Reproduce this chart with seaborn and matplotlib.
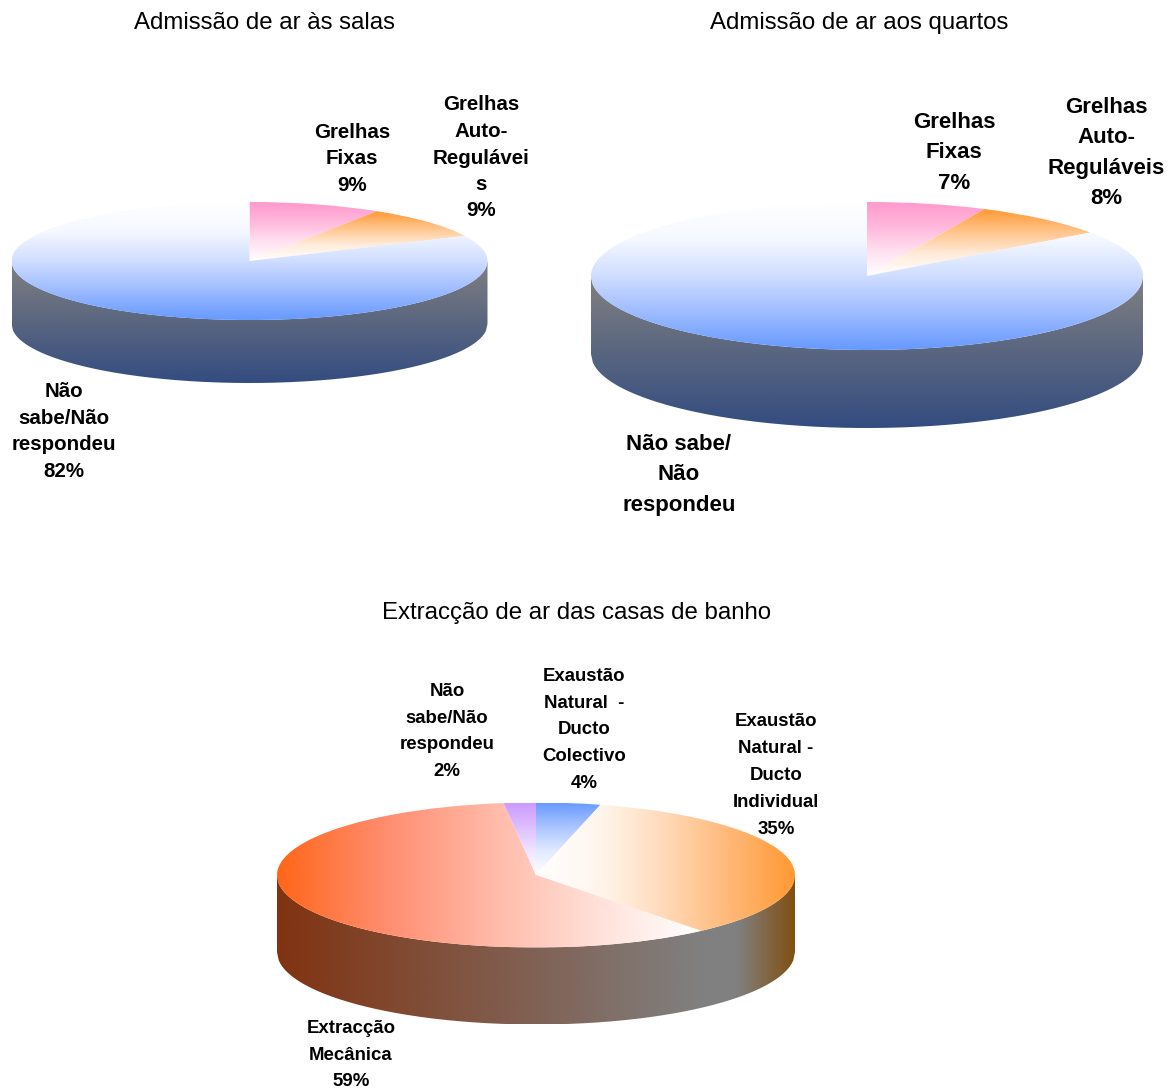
import matplotlib.pyplot as plt
import numpy as np
import seaborn as sns
from matplotlib.colors import LinearSegmentedColormap
from matplotlib.patches import PathPatch, Rectangle
from matplotlib.path import Path

# chart data
titles = ["Admissão de ar às salas", "Admissão de ar aos quartos", "Extracção de ar das casas de banho"]

salas_values = [9, 9, 82]
salas_names = ["Grelhas\nFixas", "Grelhas\nAuto-\nRegulávei\ns", "Não\nsabe/Não\nrespondeu"]

quartos_values = [7, 8, 85]
quartos_names = ["Grelhas\nFixas", "Grelhas\nAuto-\nReguláveis", "Não sabe/\nNão\nrespondeu"]

banho_values = [4, 35, 59, 2]
banho_names = ["Exaustão\nNatural  -\nDucto\nColectivo", "Exaustão\nNatural -\nDucto\nIndividual",
               "Extracção\nMecânica", "Não\nsabe/Não\nrespondeu"]

PINK = "#FF99CC"
ORANGE = "#FF9933"
BLUE = "#6699FF"
RED = "#FF6619"
PURPLE = "#CC99FF"
WIDTH, HEIGHT = 1175, 1088

sns.set_theme(style="white")
plt.rcParams['font.family'] = ['Liberation Sans', 'DejaVu Sans']


def add_gradient(ax, extent, cmap, clip, vertical=True):
    """Paint a linear gradient into extent and clip it to a patch."""
    ramp = np.linspace(0, 1, 256)
    ramp = ramp[:, None] if vertical else ramp[None, :]
    im = ax.imshow(ramp, extent=extent, origin='lower', aspect='auto', cmap=cmap,
                   vmin=0, vmax=1, interpolation='bilinear', zorder=2)
    im.set_clip_path(clip)


def draw_pie(values, cx, cy, rx, ry, depth, top_styles, side_cmap, side_vertical):
    """Tilted pie: ax.pie gives the wedges, the axes squash them to an ellipse."""
    drop = depth / ry
    ax = fig.add_axes([(cx - rx) / WIDTH, 1 - (cy + ry + depth) / HEIGHT,
                       2 * rx / WIDTH, (2 * ry + depth) / HEIGHT])
    wedges, _ = ax.pie(values, startangle=90, counterclock=False, radius=1, center=(0, 0),
                       colors=['none'] * len(values), wedgeprops={'linewidth': 0})

    # side wall below the front half of the ellipse
    xs = np.linspace(-1, 1, 300)
    rim = -np.sqrt(1 - xs ** 2)
    verts = np.concatenate([np.column_stack([xs, rim]), np.column_stack([xs[::-1], rim[::-1] - drop])])
    wall = PathPatch(Path(verts), facecolor='none', edgecolor='none', transform=ax.transData)
    ax.add_patch(wall)
    add_gradient(ax, (-1, 1, -1 - drop, 0), side_cmap, wall, side_vertical)

    for wedge, (colors, vertical) in zip(wedges, top_styles):
        box = wedge.get_path().get_extents(wedge.get_patch_transform())
        cmap = sns.blend_palette(colors, as_cmap=True)
        add_gradient(ax, (box.x0, box.x1, box.y0, box.y1), cmap, wedge, vertical)

    ax.set_aspect('auto')
    ax.set_xlim(-1, 1)
    ax.set_ylim(-1 - drop, 1)
    ax.axis('off')
    return ax


fig = plt.figure(figsize=(WIDTH / 100, HEIGHT / 100), dpi=100, facecolor='white')

wall_blue = sns.blend_palette(["#334C80", "#808080"], as_cmap=True)
wall_brown = LinearSegmentedColormap.from_list(
    'wall', [(0, "#803311"), (0.82, "#808080"), (0.89, "#808080"), (1, "#805012")])
blue_top = [BLUE, "#9DBBFF", "#CFDDFF", "#F5F8FF", "white"]
pink_top = ["white", "#FFE0F0", "#FFB8DC", PINK]
amber_top = ["white", "#FFEBD9", "#FFC48A", ORANGE]
blue_small = ["white", "#E0EAFF", "#A8C4FF", BLUE]
purple_small = ["white", "#F0E4FF", "#DDBEFF", PURPLE]
red_top = [RED, "#FF8C6E", "#FFB8A6", "#FFE0D8", "white"]
orange_top = ["white", "#FFF5EC", "#FFD9B8", "#FFB877", ORANGE]

draw_pie(salas_values, 249.5, 261, 238, 59, 63,
         [(pink_top, True), (amber_top, True), (blue_top, True)],
         wall_blue, True)
draw_pie(quartos_values, 867, 276, 276, 74, 78,
         [(pink_top, True), (amber_top, True), (blue_top, True)],
         wall_blue, True)
draw_pie(banho_values, 536, 875, 259, 72.5, 77,
         [(blue_small, True), (orange_top, False),
          (red_top, False), (purple_small, True)],
         wall_brown, False)

# text layer in pixel coordinates
overlay = fig.add_axes([0, 0, 1, 1], facecolor='none')
overlay.set_xlim(0, WIDTH)
overlay.set_ylim(HEIGHT, 0)
overlay.axis('off')

for title, x, y in zip(titles, [264, 859, 576.5], [23, 22.5, 612.5]):
    overlay.text(x, y, title, ha='center', va='center', fontsize=17.25, color='black')


def pie_label(text, x, y, size, spacing):
    return overlay.text(x, y, text, ha='center', va='center', fontsize=size, fontweight='bold',
                        linespacing=spacing, color='black')


pie_label(f"{salas_names[0]}\n{salas_values[0]}%", 352, 159, 14.8, 1.5)
pie_label(f"{salas_names[1]}\n{salas_values[1]}%", 481, 158, 14.8, 1.5)
pie_label(f"{salas_names[2]}\n{salas_values[2]}%", 64, 431.5, 14.8, 1.5)

pie_label(f"{quartos_names[0]}\n{quartos_values[0]}%", 954, 153, 16, 1.58)
pie_label(f"{quartos_names[1]}\n{quartos_values[1]}%", 1106, 153, 16, 1.58)
pie_label(quartos_names[2], 679, 475, 16, 1.58)

top_cut = pie_label(f"{banho_names[0]}\n{banho_values[0]}%", 584, 730, 13.4, 1.75)
# the first line of this label is cut off by the frame in the source
top_cut.set_clip_on(True)
top_cut.set_clip_path(Rectangle((0, 667), WIDTH, 421, transform=overlay.transData))
pie_label(f"{banho_names[1]}\n{banho_values[1]}%", 776, 775.5, 13.4, 1.75)
pie_label(f"{banho_names[2]}\n{banho_values[2]}%", 351, 1055, 13.4, 1.75)
pie_label(f"{banho_names[3]}\n{banho_values[3]}%", 447, 731.5, 13.4, 1.75)

fig.savefig("out.png", dpi=100)
